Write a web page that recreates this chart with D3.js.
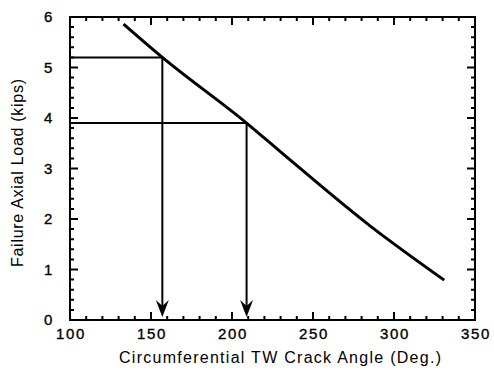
<!DOCTYPE html>
<html>
<head>
<meta charset="utf-8">
<script src="https://cdn.jsdelivr.net/npm/d3@7"></script>
<style>
  html, body { margin: 0; padding: 0; background: #fff; }
  svg { display: block; }
  text { font-family: "Liberation Sans", Arial, Helvetica, sans-serif; fill: #000; }
</style>
</head>
<body>
<svg id="chart" width="494" height="376"></svg>
<script>
// Failure load curve: crack angle (deg) vs axial load (kips)
const crackAngle = [133, 157, 209, 230, 285, 331];
const failureLoad = [5.86, 5.2, 3.9, 3.33, 1.87, 0.79];

// Read-off points marked with drop lines
const markAngle = [157, 209];
const markLoad = [5.2, 3.9];

const xTicks = [100, 150, 200, 250, 300, 350];
const yTicks = [0, 1, 2, 3, 4, 5, 6];

const svg = d3.select("#chart");
const plotL = 70, plotR = 475, plotT = 17, plotB = 320;

const x = d3.scaleLinear().domain([100, 350]).range([plotL, plotR]);
const y = d3.scaleLinear().domain([0, 6]).range([plotB, plotT]);

const majorLen = 8, minorLen = 4;
const xMinor = d3.range(110, 350, 10).filter(v => v % 50 !== 0);
const yMinor = d3.range(1, 30, 1).filter(v => v % 5 !== 0).map(v => v / 5);

// Frame plus inward tick marks on all four sides, as one path
const frame = d3.path();
frame.moveTo(plotL, plotT); frame.lineTo(plotR, plotT);
frame.lineTo(plotR, plotB); frame.lineTo(plotL, plotB); frame.closePath();
function xMarks(values, len) {
  values.forEach(v => {
    const px = x(v);
    frame.moveTo(px, plotB); frame.lineTo(px, plotB - len);
    frame.moveTo(px, plotT); frame.lineTo(px, plotT + len);
  });
}
function yMarks(values, len) {
  values.forEach(v => {
    const py = y(v);
    frame.moveTo(plotL, py); frame.lineTo(plotL + len, py);
    frame.moveTo(plotR, py); frame.lineTo(plotR - len, py);
  });
}
xMarks(xTicks, majorLen);
xMarks(xMinor, minorLen);
yMarks(yTicks, majorLen);
yMarks(yMinor, minorLen);
svg.append("path")
  .attr("d", frame.toString())
  .attr("fill", "none").attr("stroke", "#000").attr("stroke-width", 2);

// Tick labels
const labelStyle = sel => sel
  .style("font-size", "15px").style("letter-spacing", "1.6px")
  .attr("stroke", "#000").attr("stroke-width", 0.35);
svg.append("g").selectAll("text").data(xTicks).join("text")
  .attr("x", d => x(d) + 1).attr("y", plotB + 19)
  .attr("text-anchor", "middle")
  .call(labelStyle)
  .text(d => d);
svg.append("g").selectAll("text").data(yTicks).join("text")
  .attr("x", plotL - 16).attr("y", d => y(d)).attr("dy", "0.36em")
  .attr("text-anchor", "end")
  .call(labelStyle)
  .text(d => d);

// Drop lines from the curve to each axis
const marks = markAngle.map((a, i) => ({ a, l: markLoad[i] }));
svg.append("g").selectAll("line").data(marks).join("line")
  .attr("x1", x(100)).attr("x2", d => x(d.a))
  .attr("y1", d => y(d.l)).attr("y2", d => y(d.l))
  .attr("stroke", "#000").attr("stroke-width", 2);
svg.append("g").selectAll("line").data(marks).join("line")
  .attr("x1", d => x(d.a)).attr("x2", d => x(d.a))
  .attr("y1", d => y(d.l)).attr("y2", y(0) - 12)
  .attr("stroke", "#000").attr("stroke-width", 2);

// Arrowheads pointing down to the angle axis
svg.append("g").selectAll("path").data(marks).join("path")
  .attr("d", d => {
    const cx = x(d.a), ty = y(0) - 3;
    return `M${cx},${ty} L${cx - 6.5},${ty - 17} L${cx},${ty - 11} L${cx + 6.5},${ty - 17} Z`;
  })
  .attr("fill", "#000");

// Failure curve
svg.append("path")
  .datum(crackAngle.map((a, i) => [a, failureLoad[i]]))
  .attr("d", d3.line().curve(d3.curveMonotoneX).x(d => x(d[0])).y(d => y(d[1])))
  .attr("fill", "none").attr("stroke", "#000").attr("stroke-width", 3)
  .attr("stroke-linejoin", "round").attr("stroke-linecap", "butt");

// Axis titles
svg.append("text")
  .attr("x", 280).attr("y", 363)
  .attr("text-anchor", "middle").style("font-size", "16px")
  .attr("textLength", 322).attr("lengthAdjust", "spacing")
  .text("Circumferential TW Crack Angle (Deg.)");
svg.append("text")
  .attr("transform", "translate(23,173) rotate(-90)")
  .attr("text-anchor", "middle").style("font-size", "16px")
  .attr("textLength", 188).attr("lengthAdjust", "spacing")
  .text("Failure Axial Load (kips)");
</script>
</body>
</html>
